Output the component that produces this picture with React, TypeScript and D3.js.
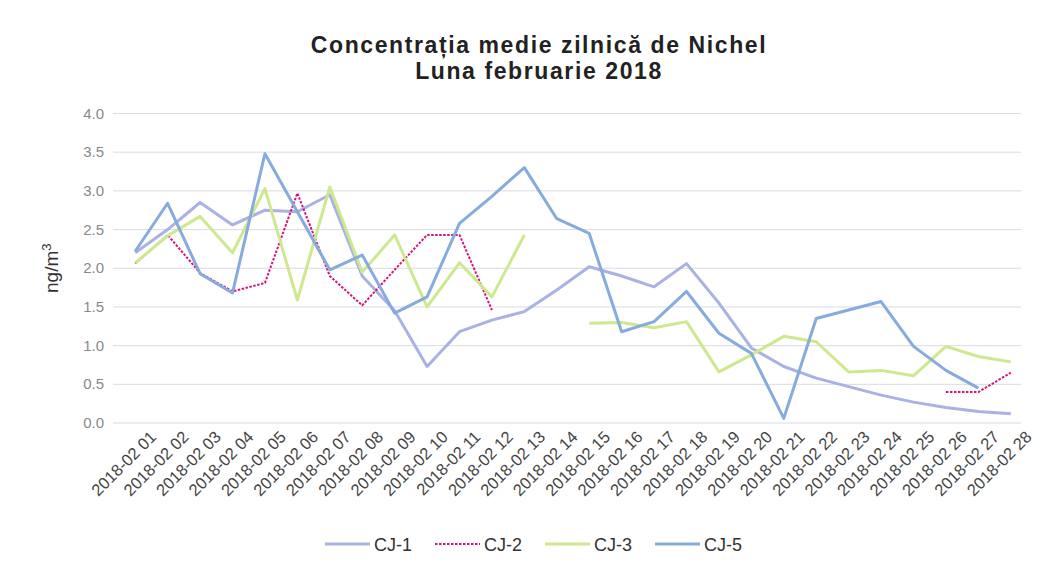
import React from "react";
import * as d3 from "d3";

const days: string[] = [
  "01","02","03","04","05","06","07","08","09","10","11","12","13","14",
  "15","16","17","18","19","20","21","22","23","24","25","26","27","28",
];
const categories: string[] = days.map((d) => `2018-02 ${d}`);

const cj1: (number | null)[] = [2.2, 2.5, 2.85, 2.56, 2.75, 2.73, 2.95, 1.9, 1.45, 0.73, 1.18, 1.33, 1.44, 1.72, 2.02, 1.9, 1.76, 2.06, 1.55, 0.97, 0.73, 0.58, 0.47, 0.36, 0.27, 0.2, 0.15, 0.12];
const cj2: (number | null)[] = [2.06, 2.43, 1.94, 1.7, 1.81, 2.97, 1.9, 1.52, 1.98, 2.43, 2.43, 1.46, null, null, null, null, null, null, null, null, null, null, null, null, null, 0.4, 0.4, 0.65];
const cj3: (number | null)[] = [2.07, 2.42, 2.67, 2.2, 3.03, 1.59, 3.05, 1.95, 2.43, 1.5, 2.07, 1.63, 2.43, null, 1.29, 1.3, 1.23, 1.31, 0.66, 0.88, 1.12, 1.05, 0.66, 0.68, 0.61, 0.99, 0.86, 0.79];
const cj5: (number | null)[] = [2.22, 2.84, 1.93, 1.68, 3.48, 2.73, 1.98, 2.17, 1.42, 1.63, 2.58, 2.93, 3.3, 2.64, 2.45, 1.18, 1.31, 1.7, 1.16, 0.9, 0.06, 1.35, 1.46, 1.57, 0.99, 0.68, 0.45, null];

const yTicks: number[] = [0, 0.5, 1, 1.5, 2, 2.5, 3, 3.5, 4];

const seriesNames: string[] = ["CJ-1", "CJ-2", "CJ-3", "CJ-5"];
const seriesValues = [cj1, cj2, cj3, cj5];
const seriesColors: string[] = ["#aab1e4", "#d4147c", "#cde88f", "#86abdc"];
const seriesDash: (string | undefined)[] = [undefined, "2.5,1.5", undefined, undefined];

export default function App() {
  const W = 1041;
  const H = 565;
  const left = 119;
  const right = 1027;
  const top = 113.5;
  const bottom = 423;

  const x = d3.scalePoint<string>().domain(categories).range([left, right]).padding(0.5);
  const y = d3.scaleLinear().domain([0, 4]).range([bottom, top]);

  const line = d3
    .line<number | null>()
    .defined((d) => d !== null)
    .x((_, i) => x(categories[i]) as number)
    .y((d) => y(d as number));

  const fmt = d3.format(".1f");
  const font = "'Liberation Sans', Arial, sans-serif";

  const legendX = [325, 435, 545, 655];

  return (
    <svg
      width={W}
      height={H}
      style={{ position: "absolute", left: 0, top: 0, background: "#ffffff" }}
      fontFamily={font}
    >
      <rect x={0} y={0} width={W} height={H} fill="#ffffff" />
      <text x={539} y={53} textAnchor="middle" fontSize={23} fontWeight="bold" letterSpacing={1.6} fill="#222">
        Concentrația medie zilnică de Nichel
      </text>
      <text x={539} y={79} textAnchor="middle" fontSize={23} fontWeight="bold" letterSpacing={1.6} fill="#222">
        Luna februarie 2018
      </text>

      {yTicks.map((t) => (
        <g key={t}>
          <line x1={left - 6} x2={right - 6} y1={y(t)} y2={y(t)} stroke="#d9dbe6" strokeWidth={1} />
          <text x={104} y={y(t) + 5} textAnchor="end" fontSize={15} fill="#888">
            {fmt(t)}
          </text>
        </g>
      ))}

      <text
        transform={`translate(58, ${y(2)}) rotate(-90)`}
        textAnchor="middle"
        fontSize={19}
        fill="#333"
      >
        ng/m<tspan dy={-7} fontSize={13}>3</tspan>
      </text>

      {categories.map((c) => (
        <text
          key={c}
          transform={`translate(${(x(c) as number) + 22}, 438) rotate(-45)`}
          textAnchor="end"
          fontSize={16.5}
          fill="#444"
        >
          {c}
        </text>
      ))}

      {seriesValues.map((vals, si) => (
        <path
          key={seriesNames[si]}
          d={line(vals) || ""}
          fill="none"
          stroke={seriesColors[si]}
          strokeWidth={si === 1 ? 2 : 3}
          strokeDasharray={seriesDash[si]}
          strokeLinejoin="round"
        />
      ))}

      {seriesNames.map((n, si) => (
        <g key={n}>
          <line
            x1={legendX[si]}
            x2={legendX[si] + 45}
            y1={544}
            y2={544}
            stroke={seriesColors[si]}
            strokeWidth={si === 1 ? 2 : 3}
            strokeDasharray={seriesDash[si]}
          />
          <text x={legendX[si] + 49} y={551} fontSize={18} fill="#333">
            {n}
          </text>
        </g>
      ))}
    </svg>
  );
}
